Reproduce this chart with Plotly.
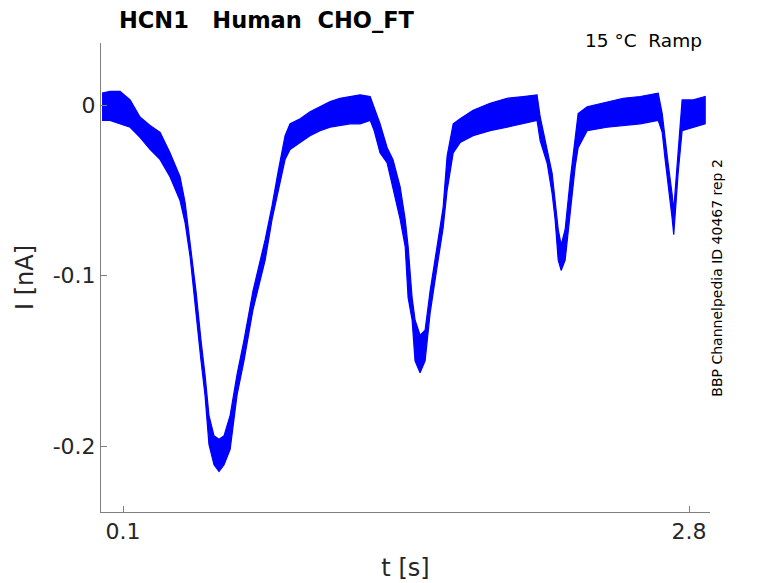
import plotly.graph_objects as go

# 전류 트레이스 (노이즈 밴드의 상/하 경계, 그림에서 읽은 값)
t_s = [0.000, 0.038, 0.086, 0.134, 0.181, 0.229, 0.277, 0.324, 0.372, 0.396,
       0.420, 0.448, 0.472, 0.491, 0.510, 0.534, 0.558, 0.582, 0.611, 0.644,
       0.677, 0.720, 0.778, 0.811, 0.840, 0.873, 0.897, 0.945, 0.992, 1.040,
       1.088, 1.135, 1.183, 1.231, 1.279, 1.298, 1.326, 1.360, 1.388, 1.422,
       1.446, 1.460, 1.479, 1.493, 1.517, 1.541, 1.565, 1.598, 1.627, 1.646,
       1.675, 1.708, 1.770, 1.851, 1.932, 2.009, 2.075, 2.090, 2.123, 2.147,
       2.161, 2.176, 2.190, 2.209, 2.233, 2.257, 2.271, 2.314, 2.409, 2.486,
       2.567, 2.653, 2.672, 2.686, 2.700, 2.719, 2.727, 2.734, 2.748, 2.767,
       2.820, 2.877]
i_upper = [0.007, 0.008, 0.008, 0.003, -0.007, -0.012, -0.016, -0.028, -0.042, -0.057,
           -0.081, -0.109, -0.138, -0.158, -0.182, -0.194, -0.196, -0.194, -0.182, -0.158,
           -0.138, -0.109, -0.079, -0.059, -0.039, -0.018, -0.011, -0.008, -0.004, -0.001,
           0.002, 0.004, 0.005, 0.006, 0.005, -0.001, -0.011, -0.025, -0.032, -0.048,
           -0.067, -0.083, -0.113, -0.126, -0.135, -0.132, -0.109, -0.083, -0.060, -0.030,
           -0.011, -0.008, -0.003, 0.001, 0.004, 0.005, 0.006, -0.007, -0.025, -0.040,
           -0.056, -0.073, -0.082, -0.073, -0.044, -0.021, -0.005, -0.001, 0.002, 0.004,
           0.005, 0.007, -0.005, -0.021, -0.034, -0.052, -0.062, -0.050, -0.025, 0.003,
           0.003, 0.005]
i_lower = [-0.009, -0.009, -0.011, -0.013, -0.019, -0.026, -0.032, -0.042, -0.056, -0.069,
           -0.089, -0.120, -0.150, -0.170, -0.199, -0.211, -0.215, -0.211, -0.202, -0.170,
           -0.150, -0.120, -0.091, -0.067, -0.050, -0.032, -0.026, -0.022, -0.018, -0.015,
           -0.013, -0.012, -0.011, -0.011, -0.009, -0.015, -0.028, -0.034, -0.048, -0.067,
           -0.083, -0.113, -0.126, -0.150, -0.157, -0.150, -0.122, -0.095, -0.072, -0.050,
           -0.028, -0.022, -0.018, -0.015, -0.013, -0.011, -0.009, -0.021, -0.034, -0.052,
           -0.067, -0.091, -0.097, -0.091, -0.063, -0.036, -0.025, -0.015, -0.013, -0.012,
           -0.011, -0.009, -0.016, -0.032, -0.048, -0.066, -0.076, -0.063, -0.040, -0.015,
           -0.013, -0.011]

x_ticks = [0.1, 2.8]
x_tick_labels = ['0.1', '2.8']
y_ticks = [0, -0.1, -0.2]
y_tick_labels = ['0', '-0.1', '-0.2']

FONT = 'DejaVu Sans'
AXIS_GRAY = '#808080'
TEXT_GRAY = '#262626'
SP = '\u00a0'  # 공백이 합쳐지지 않도록 nbsp 사용

fig = go.Figure()

# 밴드: 위 경계 → 아래 경계(역순) 로 닫힌 영역
fig.add_trace(go.Scatter(
    x=t_s + t_s[::-1],
    y=i_upper + i_lower[::-1],
    mode='lines',
    fill='toself',
    fillcolor='#0000ff',
    line=dict(color='#0000ff', width=1.2),
    hoverinfo='skip',
    showlegend=False
))

fig.update_layout(
    width=778,
    height=583,
    # 페이지 body 기본 여백(8px) 보정
    margin=dict(l=93, r=76, t=35, b=79),
    plot_bgcolor='white',
    paper_bgcolor='white',
    font=dict(family=FONT, color=TEXT_GRAY),
    showlegend=False,
    xaxis=dict(
        range=[-0.005, 2.90],
        tickmode='array',
        tickvals=x_ticks,
        ticktext=x_tick_labels,
        ticks='inside',
        ticklen=6,
        tickcolor=AXIS_GRAY,
        showline=True,
        linecolor=AXIS_GRAY,
        linewidth=1,
        showgrid=False,
        zeroline=False,
        tickfont=dict(size=22, color=TEXT_GRAY),
        title=dict(text='t [s]', font=dict(size=24, color=TEXT_GRAY), standoff=15)
    ),
    yaxis=dict(
        range=[-0.2387, 0.0364],
        tickmode='array',
        tickvals=y_ticks,
        ticktext=y_tick_labels,
        ticks='inside',
        ticklen=6,
        tickcolor=AXIS_GRAY,
        showline=True,
        linecolor=AXIS_GRAY,
        linewidth=1,
        showgrid=False,
        zeroline=False,
        tickfont=dict(size=22, color=TEXT_GRAY),
        title=dict(text='I [nA]', font=dict(size=24, color=TEXT_GRAY), standoff=12)
    ),
    annotations=[
        dict(text='<b>HCN1' + SP * 3 + 'Human' + SP * 2 + 'CHO_FT</b>', xref='paper', yref='paper',
             x=0.026, y=1.05, xanchor='left', yanchor='middle', showarrow=False,
             font=dict(size=22.5, color='black')),
        dict(text='15 °C' + SP * 2 + 'Ramp', xref='paper', yref='paper',
             x=0.990, y=1.006, xanchor='right', yanchor='middle', showarrow=False,
             font=dict(size=18.5, color='black')),
        dict(text='BBP Channelpedia ID 40467 rep 2', xref='paper', yref='paper',
             x=1.011, y=0.499, xanchor='center', yanchor='middle', showarrow=False,
             textangle=-90, font=dict(size=14, color='black')),
    ]
)

fig.write_html("out.html")
